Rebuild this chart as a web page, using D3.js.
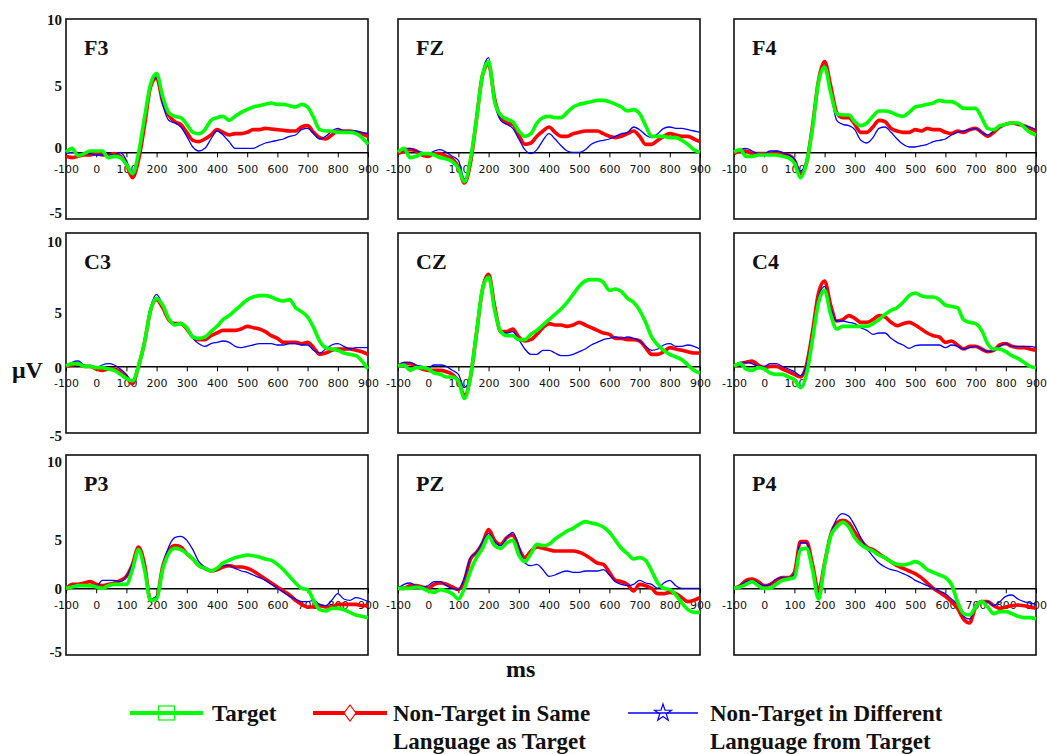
<!DOCTYPE html>
<html>
<head>
<meta charset="utf-8">
<script src="https://cdn.jsdelivr.net/npm/d3@7"></script>
<style>
  body { margin: 0; background: #fff; }
  svg { display: block; }
  .serif { font-family: "Liberation Serif", "Times New Roman", serif; font-weight: bold; }
  .tick text { font-family: "DejaVu Sans", Verdana, sans-serif; font-size: 11px; fill: #111; }
</style>
</head>
<body>
<div id="chart"></div>
<script>
// time samples (ms)
const times = [-100, -80, -60, -40, -20, 0, 20, 40, 60, 80, 100, 120, 140, 160, 180, 200, 220, 240, 260, 280,
  300, 320, 340, 360, 380, 400, 420, 440, 460, 480, 500, 520, 540, 560, 580, 600, 620, 640, 660, 680,
  700, 720, 740, 760, 780, 800, 820, 840, 860, 880, 900];

const xTicks = [-100, 0, 100, 200, 300, 400, 500, 600, 700, 800, 900];
const yTicks = [10, 5, 0, -5];

// µV values per channel: target / same language / different language
const f3Target = [0, 0.3, -0.25, -0.1, 0.1, 0.1, 0.1, -0.4, -0.3, -0.4, -0.9, -1.6, -0.1, 2.6, 5.1, 5.9, 4.2, 3.0, 2.7, 2.6, 2.1, 1.5, 1.4, 1.7, 2.4, 2.6, 2.7, 2.4, 2.7, 3.0, 3.2, 3.4, 3.5, 3.6, 3.7, 3.6, 3.6, 3.5, 3.4, 3.6, 3.4, 2.6, 1.7, 1.6, 1.6, 1.5, 1.5, 1.5, 1.4, 1.1, 0.6];
const f3Same = [-0.3, -0.4, -0.3, -0.2, -0.2, -0.1, -0.2, -0.2, -0.1, -0.3, -0.9, -1.9, -0.6, 2.0, 4.9, 5.6, 3.8, 2.8, 2.3, 2.1, 1.5, 0.9, 0.8, 1.0, 1.3, 1.7, 1.5, 1.3, 1.4, 1.4, 1.5, 1.7, 1.7, 1.8, 1.75, 1.7, 1.65, 1.6, 1.6, 1.9, 2.0, 1.5, 1.1, 1.0, 1.3, 1.6, 1.6, 1.6, 1.5, 1.4, 1.2];
const f3Diff = [-0.1, 0, -0.1, -0.1, -0.1, -0.2, -0.2, -0.1, -0.2, 0, -0.6, -1.7, -0.4, 2.3, 5.1, 5.6, 3.6, 2.4, 2.2, 1.9, 1.2, 0.4, 0.1, 0.3, 1.0, 1.6, 1.3, 0.8, 0.3, 0.3, 0.3, 0.3, 0.5, 0.7, 0.8, 0.9, 1.0, 1.2, 1.3, 1.7, 1.8, 1.4, 1.0, 1.2, 1.6, 1.8, 1.6, 1.6, 1.6, 1.5, 1.4];

const fzTarget = [0, 0.3, -0.4, -0.3, -0.1, -0.1, -0.2, -0.4, -0.5, -0.7, -1.2, -2.2, -0.5, 2.5, 5.8, 6.8, 3.8, 2.8, 2.5, 2.3, 1.6, 1.2, 1.4, 2.2, 2.6, 2.7, 2.6, 2.6, 3.0, 3.4, 3.6, 3.7, 3.8, 3.9, 3.9, 3.8, 3.6, 3.4, 3.1, 3.2, 2.9, 2.0, 1.2, 1.2, 1.2, 1.1, 1.1, 0.9, 0.6, 0.2, 0.0];
const fzSame = [-0.1, 0.1, 0.2, 0.1, -0.2, -0.3, -0.1, -0.1, -0.3, -0.5, -1.1, -2.3, -0.8, 2.5, 5.8, 6.6, 4.0, 2.6, 2.2, 2.1, 1.3, 0.6, 0.7, 1.2, 1.6, 1.9, 1.5, 1.2, 1.2, 1.4, 1.5, 1.6, 1.6, 1.6, 1.4, 1.2, 1.1, 1.2, 1.4, 1.6, 1.2, 0.6, 0.6, 0.9, 1.2, 1.4, 1.3, 1.2, 1.2, 1.0, 0.8];
const fzDiff = [0, 0.3, 0.3, 0.1, 0, -0.1, 0.1, 0.2, 0.0, -0.3, -0.6, -2.0, -0.7, 2.5, 6.0, 7.1, 3.8, 2.4, 2.1, 1.8, 1.0, 0.2, -0.1, 0.2, 0.9, 1.4, 1.0, 0.5, 0.1, 0, 0, 0.2, 0.6, 0.8, 0.9, 1.0, 1.2, 1.4, 1.5, 1.9, 1.7, 1.3, 1.1, 1.4, 1.8, 1.9, 1.8, 1.8, 1.7, 1.6, 1.5];

const f4Target = [0, 0.2, -0.3, -0.3, -0.2, -0.2, -0.2, -0.2, -0.3, -0.4, -0.8, -1.9, -0.8, 1.8, 5.3, 6.4, 4.5, 2.9, 2.8, 2.8, 2.3, 2.0, 2.2, 2.7, 3.1, 3.1, 3.0, 2.8, 2.7, 3.0, 3.4, 3.5, 3.6, 3.7, 3.9, 3.8, 3.8, 3.6, 3.3, 3.3, 3.3, 2.6, 1.8, 1.7, 2.0, 2.1, 2.2, 2.2, 1.9, 1.5, 1.3];
const f4Same = [-0.1, 0.1, 0.1, -0.1, -0.1, -0.1, -0.1, 0.0, -0.1, -0.2, -0.6, -1.6, -0.8, 2.0, 5.4, 6.8, 5.0, 3.0, 2.6, 2.6, 2.1, 1.5, 1.5, 1.9, 2.4, 2.3, 1.8, 1.6, 1.5, 1.5, 1.7, 1.6, 1.8, 1.7, 1.7, 1.5, 1.4, 1.6, 1.5, 1.7, 1.8, 1.5, 1.2, 1.5, 1.9, 2.1, 2.2, 2.1, 2.0, 1.8, 1.6];
const f4Diff = [0, 0.2, 0.3, 0.1, -0.1, -0.1, 0.1, 0.1, 0, -0.2, -0.5, -1.4, -0.6, 2.2, 5.5, 6.5, 4.5, 2.4, 2.1, 2.0, 1.7, 0.9, 0.7, 1.1, 1.8, 1.9, 1.5, 1.0, 0.6, 0.4, 0.4, 0.5, 0.6, 0.8, 0.9, 1.0, 1.3, 1.5, 1.6, 1.7, 1.8, 1.5, 1.3, 1.6, 1.9, 2.1, 2.2, 2.1, 2.0, 1.9, 1.7];

const c3Target = [0, 0.2, 0.2, 0.0, 0.0, -0.1, -0.1, -0.2, -0.3, -0.6, -0.9, -1.1, 0.0, 1.8, 4.2, 5.1, 4.6, 3.6, 3.1, 3.2, 2.9, 2.2, 2.1, 2.2, 2.6, 3.0, 3.5, 3.8, 4.2, 4.6, 5.0, 5.2, 5.3, 5.3, 5.2, 5.0, 4.9, 5.0, 4.4, 4.1, 3.7, 2.9, 1.9, 1.4, 1.3, 1.2, 1.0, 0.9, 0.8, 0.4, -0.2];
const c3Same = [0, 0.1, 0.2, 0.0, 0.0, -0.2, -0.3, -0.2, -0.2, -0.4, -0.8, -1.3, 0.0, 1.8, 4.2, 5.0, 4.4, 3.5, 3.2, 3.2, 2.8, 2.2, 2.0, 2.0, 2.3, 2.5, 2.7, 2.7, 2.7, 2.8, 3.0, 2.9, 2.8, 2.6, 2.3, 2.1, 1.8, 1.8, 1.8, 1.7, 1.8, 1.4, 0.9, 1.0, 1.2, 1.3, 1.3, 1.3, 1.2, 1.1, 0.9];
const c3Diff = [0, 0.3, 0.4, 0.1, 0.0, -0.1, 0.1, 0.2, 0.1, -0.2, -0.6, -1.2, 0.0, 1.9, 4.4, 5.4, 4.6, 3.5, 3.2, 3.3, 2.8, 2.1, 1.7, 1.5, 1.7, 1.8, 1.9, 1.8, 1.5, 1.4, 1.5, 1.6, 1.7, 1.7, 1.7, 1.6, 1.6, 1.7, 1.7, 1.6, 1.6, 1.2, 1.0, 1.3, 1.6, 1.7, 1.5, 1.3, 1.4, 1.4, 1.4];

const czTarget = [0, 0.1, -0.3, -0.1, -0.1, -0.2, -0.5, -0.6, -0.8, -0.8, -1.1, -2.4, -0.8, 2.5, 5.8, 6.7, 4.2, 2.6, 2.3, 2.3, 2.0, 2.0, 2.4, 2.7, 3.1, 3.5, 3.9, 4.3, 4.8, 5.4, 6.0, 6.4, 6.5, 6.5, 6.3, 5.7, 5.8, 5.6, 5.1, 4.8, 4.2, 3.3, 2.2, 1.6, 1.2, 0.9, 0.7, 0.5, 0.1, -0.3, -0.5];
const czSame = [0, 0.2, 0.2, 0.0, -0.2, -0.3, -0.3, -0.3, -0.4, -0.6, -1.1, -2.2, -0.8, 2.5, 5.8, 6.9, 4.5, 2.6, 2.6, 2.8, 2.2, 1.9, 2.0, 2.4, 2.9, 3.2, 3.1, 3.1, 3.0, 3.1, 3.3, 3.1, 2.9, 2.7, 2.5, 2.4, 2.1, 2.1, 2.0, 2.0, 1.9, 1.4, 0.9, 0.9, 1.1, 1.4, 1.3, 1.2, 1.1, 1.0, 1.0];
const czDiff = [0, 0.3, 0.3, 0.1, 0.0, -0.1, 0.1, 0.1, 0.0, -0.3, -0.6, -1.6, -0.6, 2.5, 5.9, 6.8, 4.4, 2.5, 2.5, 2.6, 2.0, 1.3, 0.9, 0.9, 1.2, 1.2, 1.0, 0.8, 0.8, 0.9, 1.1, 1.3, 1.6, 1.8, 2.0, 2.1, 2.2, 2.1, 2.2, 2.1, 1.9, 1.5, 1.2, 1.3, 1.6, 1.7, 1.5, 1.5, 1.6, 1.5, 1.3];

const c4Target = [0, 0.2, -0.2, -0.3, -0.1, -0.2, -0.5, -0.6, -0.6, -0.8, -1.0, -1.6, -0.6, 2.0, 4.8, 5.7, 3.9, 2.8, 3.0, 3.0, 3.0, 3.0, 3.0, 3.2, 3.5, 3.9, 4.2, 4.4, 4.8, 5.3, 5.5, 5.3, 5.2, 5.2, 5.0, 4.6, 4.5, 4.4, 3.5, 3.3, 3.2, 2.7, 1.7, 1.3, 1.3, 1.1, 0.8, 0.6, 0.3, 0.0, -0.1];
const c4Same = [0, 0.2, 0.3, 0.4, 0.1, -0.1, 0.0, 0.0, -0.2, -0.4, -0.6, -0.8, 0.1, 2.6, 5.5, 6.4, 4.6, 3.4, 3.5, 3.8, 3.6, 3.3, 3.3, 3.5, 3.8, 3.7, 3.3, 3.05, 3.2, 3.3, 3.1, 2.8, 2.5, 2.3, 2.2, 1.8, 1.9, 1.6, 1.3, 1.5, 1.5, 1.3, 1.1, 1.2, 1.6, 1.7, 1.5, 1.4, 1.4, 1.3, 1.2];
const c4Diff = [0, 0.3, 0.3, 0.2, 0.0, 0.0, 0.2, 0.2, 0.0, -0.2, -0.4, -0.7, 0.1, 2.5, 5.2, 6.0, 4.4, 3.4, 3.4, 3.3, 3.2, 2.9, 2.7, 2.4, 2.5, 2.5, 2.1, 1.8, 1.6, 1.35, 1.55, 1.6, 1.6, 1.6, 1.6, 1.4, 1.6, 1.5, 1.3, 1.4, 1.5, 1.3, 1.1, 1.2, 1.5, 1.7, 1.5, 1.5, 1.5, 1.5, 1.4];

const p3Target = [0, 0.1, 0.2, 0.2, 0.2, 0.1, 0.0, 0.2, 0.3, 0.3, 0.3, 1.4, 2.9, 1.4, -0.9, -0.8, 1.4, 2.6, 3.0, 2.9, 2.6, 2.2, 1.7, 1.5, 1.3, 1.5, 1.9, 2.1, 2.3, 2.4, 2.5, 2.45, 2.35, 2.2, 2.1, 1.8, 1.4, 0.9, 0.4, 0.0, -0.1, -0.9, -1.6, -1.7, -1.5, -1.5, -1.6, -1.8, -2.0, -2.1, -2.2];
const p3Same = [-0.1, 0.3, 0.3, 0.4, 0.5, 0.3, 0.2, 0.3, 0.4, 0.6, 0.9, 1.8, 3.1, 1.8, -0.9, -0.7, 1.6, 2.8, 3.2, 3.1, 2.6, 2.2, 1.7, 1.5, 1.3, 1.4, 1.6, 1.7, 1.6, 1.6, 1.5, 1.3, 1.0, 0.7, 0.4, 0.1, -0.2, -0.5, -0.9, -1.2, -1.4, -1.4, -1.3, -1.4, -1.4, -1.2, -1.2, -1.2, -1.2, -1.3, -1.3];
const p3Diff = [0, 0.2, 0.3, 0.2, 0.2, 0.1, 0.6, 0.6, 0.6, 0.5, 0.9, 1.8, 3.0, 1.8, -0.8, -0.6, 1.7, 3.1, 3.8, 3.9, 3.6, 2.9, 2.0, 1.6, 1.3, 1.4, 1.7, 1.7, 1.5, 1.3, 1.2, 1.0, 0.8, 0.6, 0.3, 0.0, -0.3, -0.6, -0.8, -1.0, -1.0, -0.9, -1.2, -1.3, -0.9, -0.4, -0.8, -0.9, -0.7, -0.8, -1.0];

const pzTarget = [0, 0.0, 0.0, 0.1, 0.0, -0.2, -0.3, -0.1, -0.2, -0.4, -0.8, 0.0, 1.3, 2.3, 3.0, 3.9, 3.2, 3.0, 3.4, 3.6, 2.5, 2.0, 2.6, 3.3, 3.2, 3.3, 3.7, 4.0, 4.3, 4.5, 4.8, 5.0, 4.9, 4.8, 4.6, 4.2, 3.6, 3.0, 2.6, 2.2, 2.3, 2.1, 1.3, 0.4, 0.0, -0.1, -0.5, -1.1, -1.6, -1.8, -1.8];
const pzSame = [0, 0.0, 0.2, 0.2, 0.1, 0.0, 0.3, 0.4, 0.3, 0.1, -0.1, 0.6, 2.2, 2.7, 3.4, 4.4, 3.6, 3.3, 3.8, 4.0, 3.0, 2.3, 2.8, 3.1, 3.0, 2.9, 2.8, 2.8, 2.8, 2.8, 2.7, 2.5, 2.2, 1.9, 1.8, 1.2, 0.6, 0.5, 0.3, -0.2, 0.3, 0.2, 0.0, -0.4, -0.4, -0.3, -0.4, -0.7, -1.0, -0.9, -0.7];
const pzDiff = [0, 0.3, 0.4, 0.2, 0.1, 0.2, 0.5, 0.5, 0.2, 0.0, -0.1, 0.8, 2.3, 2.7, 3.5, 4.1, 3.5, 3.2, 3.8, 4.2, 3.2, 1.9, 1.7, 1.8, 1.4, 0.9, 1.0, 1.2, 1.3, 1.2, 1.2, 1.3, 1.3, 1.3, 1.4, 1.0, 0.5, 0.3, 0.2, 0.3, 0.6, 0.4, 0.3, 0.0, 0.4, 0.6, 0.2, 0.0, 0.0, 0.0, 0.0];

const p4Target = [0, 0.1, 0.3, 0.5, 0.2, 0.0, 0.0, 0.3, 0.6, 0.7, 0.8, 2.9, 3.0, 1.4, -0.8, 1.8, 3.9, 4.6, 4.95, 4.6, 3.8, 3.3, 3.0, 2.8, 2.5, 2.3, 2.0, 1.8, 1.75, 1.85, 2.0, 1.8, 1.4, 1.2, 1.0, 0.8, 0.3, -1.0, -1.9, -2.0, -1.4, -1.0, -1.4, -1.9, -1.75, -1.75, -1.9, -2.1, -2.2, -2.2, -2.3];
const p4Same = [0, 0.2, 0.6, 0.7, 0.5, 0.2, 0.3, 0.6, 0.8, 0.8, 1.2, 3.5, 3.5, 1.8, -0.2, 1.9, 4.0, 4.9, 5.1, 4.9, 4.2, 3.6, 3.1, 2.9, 2.6, 2.3, 2.0, 1.7, 1.5, 1.3, 1.1, 0.8, 0.4, 0.0, -0.3, -0.6, -1.0, -1.5, -2.3, -2.6, -1.4, -1.0, -1.0, -1.3, -1.5, -1.4, -1.3, -1.25, -1.3, -1.4, -1.5];
const p4Diff = [0, 0.2, 0.5, 0.6, 0.4, 0.2, 0.3, 0.7, 0.8, 0.8, 1.1, 3.4, 3.4, 1.7, -0.3, 1.9, 4.0, 5.2, 5.6, 5.4, 4.7, 3.8, 3.0, 2.4, 1.9, 1.6, 1.4, 1.3, 1.1, 0.9, 0.6, 0.4, 0.2, 0.0, -0.2, -0.4, -0.8, -1.2, -2.1, -2.3, -1.4, -1.0, -1.0, -1.3, -1.0, -0.6, -0.5, -0.8, -1.0, -1.1, -1.2];

const channels = ["F3", "FZ", "F4", "C3", "CZ", "C4", "P3", "PZ", "P4"];
const channelData = [
  [f3Target, f3Same, f3Diff], [fzTarget, fzSame, fzDiff], [f4Target, f4Same, f4Diff],
  [c3Target, c3Same, c3Diff], [czTarget, czSame, czDiff], [c4Target, c4Same, c4Diff],
  [p3Target, p3Same, p3Diff], [pzTarget, pzSame, pzDiff], [p4Target, p4Same, p4Diff]
];

// legend entries (wrapped as in the original)
const legendLabels = [
  ["Target"],
  ["Non-Target in Same", "Language as Target"],
  ["Non-Target in Different", "Language from Target"]
];

// layout
const width = 1047, height = 754;
const colLeft = [66, 398, 734];
const rowTop = [19, 233, 455];
const panelW = 302, panelH = 200;
const colors = ["#00ff00", "#ff0000", "#0000ff"];
const widths = [3.6, 3.6, 1.3];
const drawOrder = [1, 2, 0];
// y tick labels in the original sit a little off their ticks
const yLabelShift = [[1, 0, -5, -6], [9, 13, 1, 3], [7, 18, 0, -3]];

const svg = d3.select("#chart").append("svg")
  .attr("width", width)
  .attr("height", height);

const x = d3.scaleLinear().domain([-100, 900]).range([0, panelW]);
const y = d3.scaleLinear().domain([-5, 10]).range([panelH, 0]);

const line = d3.line()
  .x((d, i) => x(times[i]))
  .y(d => y(d))
  .curve(d3.curveMonotoneX);

channels.forEach((name, k) => {
  const r = Math.floor(k / 3), c = k % 3;
  const g = svg.append("g").attr("transform", `translate(${colLeft[c]},${rowTop[r]})`);

  g.append("rect")
    .attr("width", panelW).attr("height", panelH)
    .attr("fill", "none").attr("stroke", "#111").attr("stroke-width", 1.6);

  const ax = g.append("g")
    .attr("transform", `translate(0,${y(0)})`)
    .call(d3.axisBottom(x).tickValues(xTicks).tickFormat(d => String(d))
      .tickSize(5).tickSizeOuter(0).tickPadding(8));
  ax.select(".domain").attr("stroke", "#000").attr("stroke-width", 1.5);
  ax.selectAll(".tick line").attr("stroke", "#000");

  drawOrder.forEach(s => {
    g.append("path")
      .datum(channelData[k][s])
      .attr("fill", "none")
      .attr("stroke", colors[s])
      .attr("stroke-width", widths[s])
      .attr("stroke-linejoin", "round")
      .attr("d", line);
  });

  g.append("text")
    .attr("class", "serif")
    .attr("x", 18).attr("y", 36)
    .attr("font-size", 22)
    .attr("fill", "#111")
    .text(name);

  if (c === 0) {
    g.selectAll(".ylab")
      .data(yTicks)
      .join("text")
      .attr("class", "serif")
      .attr("x", -4)
      .attr("y", (d, i) => y(d) + yLabelShift[r][i])
      .attr("dy", "0.35em")
      .attr("text-anchor", "end")
      .attr("font-size", 15)
      .attr("fill", "#111")
      .text(d => String(d));
  }
});

// axis titles
svg.append("text").attr("class", "serif")
  .attr("x", 12).attr("y", 378).attr("font-size", 24).attr("fill", "#111")
  .text("μV");
svg.append("text").attr("class", "serif")
  .attr("x", 506).attr("y", 677).attr("font-size", 24).attr("fill", "#111")
  .text("ms");

// legend
const legendPos = [
  { x0: 130, x1: 203, tx: 212 },
  { x0: 313, x1: 387, tx: 393 },
  { x0: 628, x1: 698, tx: 710 }
];
const ly = 713;
legendPos.forEach((l, s) => {
  svg.append("line")
    .attr("x1", l.x0).attr("x2", l.x1).attr("y1", ly).attr("y2", ly)
    .attr("stroke", colors[s]).attr("stroke-width", widths[s] + 0.4);
  const mx = (l.x0 + l.x1) / 2;
  if (s === 0) {
    svg.append("rect").attr("x", mx - 8).attr("y", ly - 7).attr("width", 16).attr("height", 14)
      .attr("fill", "none").attr("stroke", colors[s]).attr("stroke-width", 1.2);
  } else if (s === 1) {
    svg.append("path").attr("d", `M${mx},${ly - 8}L${mx + 6},${ly}L${mx},${ly + 8}L${mx - 6},${ly}Z`)
      .attr("fill", "#fff").attr("stroke", colors[s]).attr("stroke-width", 1.2);
  } else {
    svg.append("path").attr("transform", `translate(${mx},${ly})`)
      .attr("d", d3.symbol(d3.symbolStar, 90)())
      .attr("fill", "none").attr("stroke", colors[s]).attr("stroke-width", 1.2);
  }
  const t = svg.append("text").attr("class", "serif")
    .attr("x", l.tx).attr("y", 721).attr("font-size", 23).attr("fill", "#111");
  legendLabels[s].forEach((txt, i) => {
    t.append("tspan").attr("x", l.tx).attr("dy", i === 0 ? 0 : 28).text(txt);
  });
});
</script>
</body>
</html>
